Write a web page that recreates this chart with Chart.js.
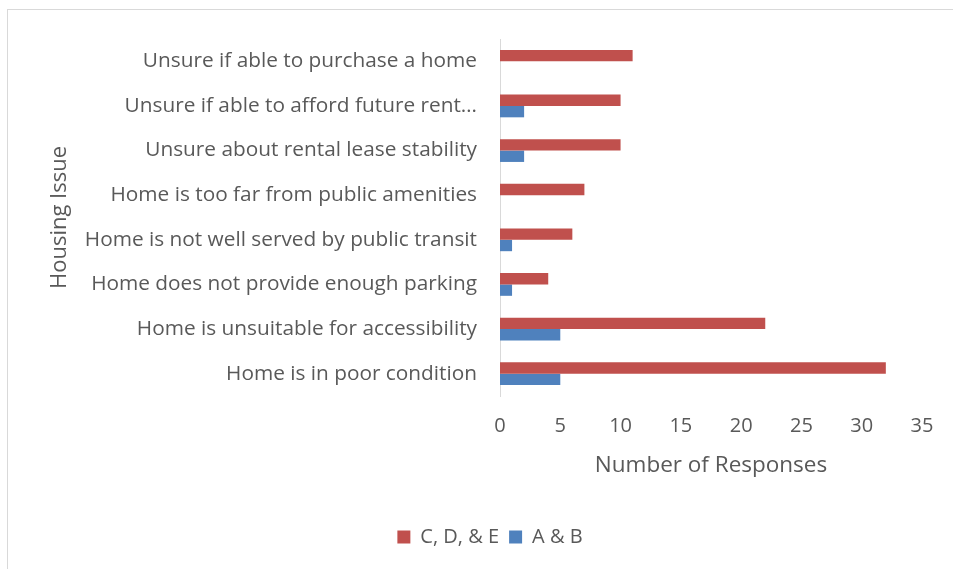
<!DOCTYPE html>
<html>
<head>
<meta charset="utf-8">
<script src="https://cdn.jsdelivr.net/npm/chart.js@4"></script>
<style>
  html, body { margin: 0; padding: 0; background: #fff; }
  #frame {
    position: absolute; left: 7px; top: 9px;
    width: 960px; height: 580px;
    border: 1px solid #d9d9d9;
  }
  #wrap { position: absolute; left: 0; top: 0; width: 953px; height: 569px; }
</style>
</head>
<body>
<div id="frame"></div>
<div id="wrap"><canvas id="issueChart" width="953" height="569"></canvas></div>
<script>
const issueLabels = [
  "Unsure if able to purchase a home",
  "Unsure if able to afford future rent\u2026",
  "Unsure about rental lease stability",
  "Home is too far from public amenities",
  "Home is not well served by public transit",
  "Home does not provide enough parking",
  "Home is unsuitable for accessibility",
  "Home is in poor condition"
];
const cdeVals = [11, 10, 10, 7, 6, 4, 22, 32];
const abVals = [0, 2, 2, 0, 1, 1, 5, 5];
const xTicks = [0, 5, 10, 15, 20, 25, 30, 35];

const textColor = "#595959";
const fontFamily = "'Open Sans', sans-serif";

document.addEventListener("DOMContentLoaded", function () {
  const canvas = document.getElementById("issueChart");
  new Chart(canvas, {
    type: "bar",
    data: {
      labels: issueLabels,
      datasets: [
        {
          label: "C, D, & E",
          data: cdeVals,
          backgroundColor: "#C0504D",
          borderWidth: 0,
          categoryPercentage: 0.51,
          barPercentage: 1.0,
        },
        {
          label: "A & B",
          data: abVals,
          backgroundColor: "#4F81BD",
          borderWidth: 0,
          categoryPercentage: 0.51,
          barPercentage: 1.0,
        },
      ],
    },
    options: {
      indexAxis: "y",
      responsive: false,
      animation: false,
      layout: { padding: { left: 58, top: 39, right: 31, bottom: 12 } },
      plugins: {
        legend: {
          position: "bottom",
          labels: {
            color: textColor,
            font: { family: fontFamily, size: 20 },
            boxWidth: 13,
            boxHeight: 13,
            padding: 10,
          },
        },
        tooltip: { enabled: false },
      },
      scales: {
        x: {
          min: 0,
          max: 35,
          afterBuildTicks: (scale) => {
            scale.ticks = xTicks.map((v) => ({ value: v }));
          },
          afterFit: (scale) => { scale.height = 121; },
          grid: { display: false, drawTicks: false },
          border: { display: false },
          ticks: { color: textColor, font: { family: fontFamily, size: 20 }, padding: 18 },
          title: {
            display: true,
            text: "Number of Responses",
            color: textColor,
            font: { family: fontFamily, size: 22.5 },
            padding: { top: 0, bottom: 38 },
          },
        },
        y: {
          afterFit: (scale) => { scale.width = 442; },
          grid: { display: false, drawTicks: false },
          border: { display: true, color: "#d9d9d9", width: 1 },
          ticks: { color: textColor, font: { family: fontFamily, size: 20.8 }, padding: 23 },
          title: {
            display: true,
            text: "Housing Issue",
            color: textColor,
            font: { family: fontFamily, size: 22 },
            padding: { top: -11.5, bottom: 0 },
          },
        },
      },
    },
  });
});
</script>
</body>
</html>
